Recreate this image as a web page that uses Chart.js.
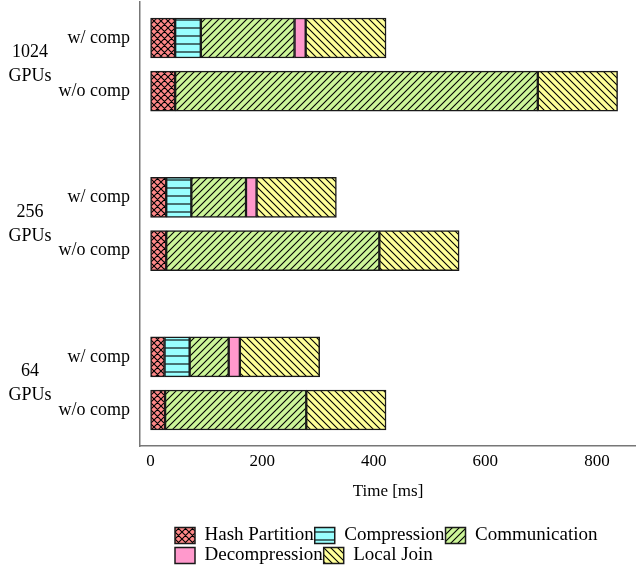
<!DOCTYPE html>
<html>
<head>
<meta charset="utf-8">
<script src="https://cdn.jsdelivr.net/npm/chart.js@4.4.1/dist/chart.umd.min.js"></script>
<style>
  html, body { margin: 0; padding: 0; background: #fff; }
  #wrap { width: 636px; height: 575px; }
</style>
</head>
<body>
<div id="wrap"><canvas id="c" width="636" height="575"></canvas></div>
<script>
// ---- data ----
const groupLabels = [['1024', 'GPUs'], ['256', 'GPUs'], ['64', 'GPUs']];
const rowLabels = ['w/ comp', 'w/o comp', 'w/ comp', 'w/o comp', 'w/ comp', 'w/o comp'];
const rowIndex = [0, 1, 3, 4, 6, 7];
const seriesNames = ['Hash Partition', 'Compression', 'Communication', 'Decompression', 'Local Join'];
const hashPartition = [44, 44, 28, 28, 25, 26];
const compression   = [46, null, 45, null, 45, null];
const communication = [168, 650, 98, 382, 70, 253];
const decompression = [20, null, 19, null, 20, null];
const localJoin     = [144, 143, 143, 143, 143, 143];
const xTicks = [0, 200, 400, 600, 800];

const FONT = "'Liberation Serif', 'Times New Roman', serif";

function makePattern(bg, kind) {
  const s = kind === 'h' ? 8 : 7;
  const c = document.createElement('canvas');
  c.width = s; c.height = s;
  const g = c.getContext('2d');
  g.fillStyle = bg;
  g.fillRect(0, 0, s, s);
  if (kind) {
    g.strokeStyle = '#000';
    g.lineWidth = 1.1;
    g.beginPath();
    if (kind === '/' || kind === 'x') {
      g.moveTo(-1, 1); g.lineTo(1, -1);
      g.moveTo(0, s); g.lineTo(s, 0);
      g.moveTo(s - 1, s + 1); g.lineTo(s + 1, s - 1);
    }
    if (kind === '\\' || kind === 'x') {
      g.moveTo(-1, s - 1); g.lineTo(1, s + 1);
      g.moveTo(0, 0); g.lineTo(s, s);
      g.moveTo(s - 1, -1); g.lineTo(s + 1, 1);
    }
    if (kind === 'h') {
      g.moveTo(0, s / 2); g.lineTo(s, s / 2);
    }
    g.stroke();
  }
  return g.createPattern(c, 'repeat');
}

const seriesValues = [hashPartition, compression, communication, decompression, localJoin];
const seriesFill = ['#ff8888', '#99ffff', '#ccf599', '#ff99cc', '#ffff99'];
const seriesHatch = ['x', 'h', '/', null, '\\'];

const datasets = seriesNames.map((name, k) => ({
  label: name,
  data: rowIndex.map((y, i) => ({ x: seriesValues[k][i], y: y })),
  backgroundColor: makePattern(seriesFill[k], seriesHatch[k]),
  borderColor: '#1a1a1a',
  borderWidth: 1.5,
  borderSkipped: false,
  barThickness: 40
}));

const groupLabelPlugin = {
  id: 'groupLabels',
  afterDraw(chart) {
    const ctx = chart.ctx;
    const ys = chart.scales.y;
    ctx.save();
    ctx.font = '18px ' + FONT;
    ctx.fillStyle = '#000';
    ctx.textAlign = 'center';
    ctx.textBaseline = 'middle';
    groupLabels.forEach((lines, g) => {
      const yc = (ys.getPixelForValue(rowIndex[2 * g]) + ys.getPixelForValue(rowIndex[2 * g + 1])) / 2;
      const lh = 24;
      lines.forEach((t, j) => {
        ctx.fillText(t, 30, yc + (j - (lines.length - 1) / 2) * lh);
      });
    });
    ctx.restore();
  }
};

const legendShift = {
  id: 'legendShift',
  afterLayout(chart) {
    if (chart.legend) {
      chart.legend.left += 34;
      chart.legend.right += 34;
    }
  }
};

new Chart(document.getElementById('c'), {
  type: 'bar',
  data: { datasets },
  plugins: [groupLabelPlugin, legendShift],
  options: {
    indexAxis: 'y',
    responsive: false,
    animation: false,
    layout: { padding: { top: 2, right: 0, left: 0, bottom: 0 } },
    scales: {
      x: {
        type: 'linear',
        stacked: true,
        min: -19,
        max: 870,
        afterBuildTicks: (s) => { s.ticks = xTicks.map(v => ({ value: v })); },
        grid: { display: false, drawTicks: false },
        border: { display: true, color: '#777', width: 1.5 },
        ticks: { color: '#000', font: { family: FONT, size: 17 }, padding: 5 },
        title: {
          display: true, text: 'Time [ms]', color: '#000',
          font: { family: FONT, size: 17 }, padding: { top: 5.4, bottom: 22.8 }
        }
      },
      y: {
        type: 'linear',
        stacked: true,
        reverse: true,
        offset: false,
        min: -0.677,
        max: 7.677,
        afterBuildTicks: (s) => { s.ticks = rowIndex.map(v => ({ value: v })); },
        afterFit: (s) => { s.width = 140; s.paddingTop = 0; s.paddingBottom = 0; },
        grid: { display: false, drawTicks: false },
        border: { display: true, color: '#777', width: 1.5 },
        ticks: {
          color: '#000', font: { family: FONT, size: 18 }, padding: 10, autoSkip: false,
          callback: (v) => rowLabels[rowIndex.indexOf(v)]
        }
      }
    },
    plugins: {
      tooltip: { enabled: false },
      legend: {
        position: 'bottom',
        align: 'start',
        fullSize: false,
        labels: {
          boxWidth: 20, boxHeight: 16, padding: 1, color: '#000',
          font: { family: FONT, size: 19 }
        }
      }
    }
  }
});
</script>
</body>
</html>
